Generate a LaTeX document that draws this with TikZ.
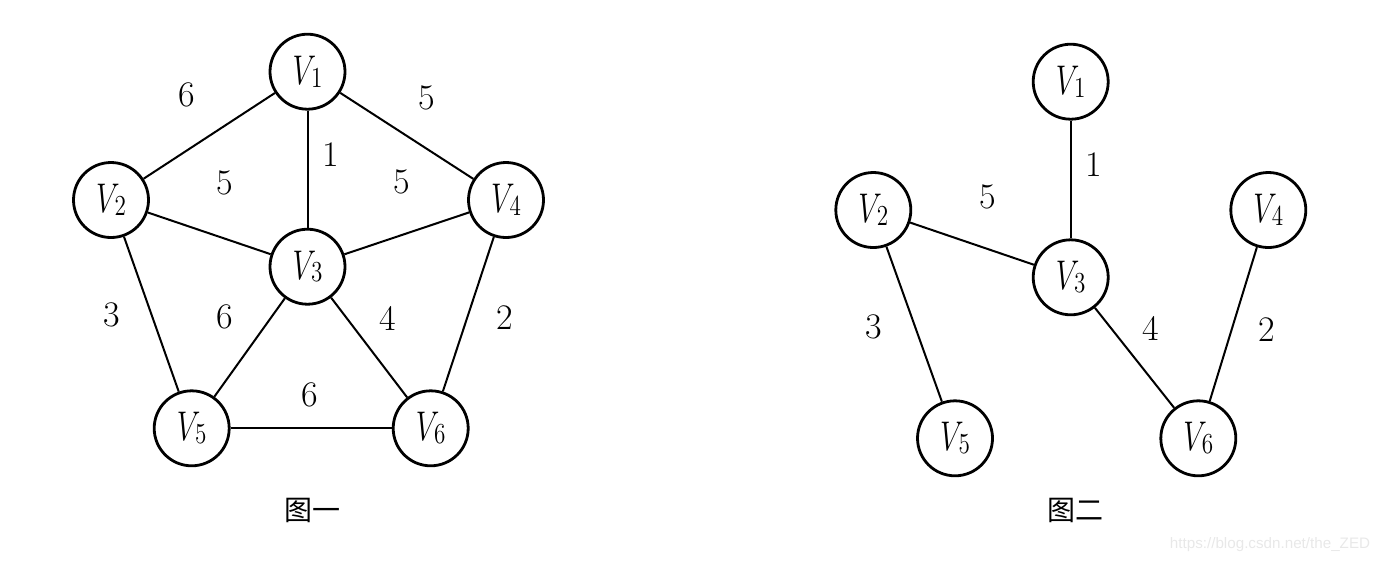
\documentclass[tikz,border=0pt]{standalone}
\usepackage{fontspec}
\usepackage{graphicx}
\newfontfamily\cjk{Noto Sans CJK SC}
\newfontfamily\wmfont{Liberation Sans}
\newcommand\vn[1]{\fontsize{21.5}{21.5}\selectfont\scalebox{0.72}[1]{$V$}\kern-0.12em\raisebox{-0.06em}{\fontsize{14.5}{14.5}\selectfont\scalebox{0.8}[1]{#1}}}
\begin{document}
\begin{tikzpicture}[x=0.5pt,y=-0.5pt,
  vert/.style={circle,draw,line width=1.4pt,minimum size=37.5pt,inner sep=0pt},
  edge/.style={line width=1pt},
  wt/.style={inner sep=0pt,font=\fontsize{18}{18}\selectfont},
  capt/.style={inner sep=0pt,font=\cjk\fontsize{14}{14}\selectfont},
  wm/.style={inner sep=0pt,text=black!9,font=\wmfont\fontsize{7.6}{7.6}\selectfont}]
\useasboundingbox (0,0) rectangle (1384,564);
% Graph 1
\node[vert] (a1) at (307.5,71.7) {\vn{1}};
\node[vert] (a2) at (111,200) {\vn{2}};
\node[vert] (a4) at (506,200) {\vn{4}};
\node[vert] (a3) at (307.5,266.7) {\vn{3}};
\node[vert] (a5) at (191.7,428.3) {\vn{5}};
\node[vert] (a6) at (430.7,428.3) {\vn{6}};
\draw[edge] (a1) -- (a2);
\draw[edge] (a1) -- (a4);
\draw[edge] (a1) -- (a3);
\draw[edge] (a2) -- (a3);
\draw[edge] (a4) -- (a3);
\draw[edge] (a2) -- (a5);
\draw[edge] (a3) -- (a5);
\draw[edge] (a3) -- (a6);
\draw[edge] (a4) -- (a6);
\draw[edge] (a5) -- (a6);
\node[wt] (w12) at (187,95) {6};
\node[wt] (w14) at (427,98) {5};
\node[wt] (w13) at (331,155) {1};
\node[wt] (w23) at (225,183) {5};
\node[wt] (w34) at (402,182) {5};
\node[wt] (w25) at (112,315) {3};
\node[wt] (w35) at (225,317) {6};
\node[wt] (w36) at (388,318) {4};
\node[wt] (w46) at (505,318) {2};
\node[wt] (w56) at (310,395) {6};
\node[capt] (c1) at (312,510) {图一};
% Graph 2
\node[vert] (b1) at (1070.7,81.7) {\vn{1}};
\node[vert] (b2) at (873.3,210) {\vn{2}};
\node[vert] (b4) at (1268.3,210) {\vn{4}};
\node[vert] (b3) at (1070.7,277.3) {\vn{3}};
\node[vert] (b5) at (955,438.3) {\vn{5}};
\node[vert] (b6) at (1198.3,438.3) {\vn{6}};
\draw[edge] (b1) -- (b3);
\draw[edge] (b2) -- (b3);
\draw[edge] (b2) -- (b5);
\draw[edge] (b3) -- (b6);
\draw[edge] (b4) -- (b6);
\node[wt] (v13) at (1093.3,165) {1};
\node[wt] (v23) at (987.7,196.7) {5};
\node[wt] (v25) at (874,326.7) {3};
\node[wt] (v36) at (1151,328.3) {4};
\node[wt] (v46) at (1266.7,329.3) {2};
\node[capt] (c2) at (1075,510) {图二};
\node[wm] (mark) at (1270,545) {https://blog.csdn.net/the\_ZED};
\end{tikzpicture}
\end{document}
